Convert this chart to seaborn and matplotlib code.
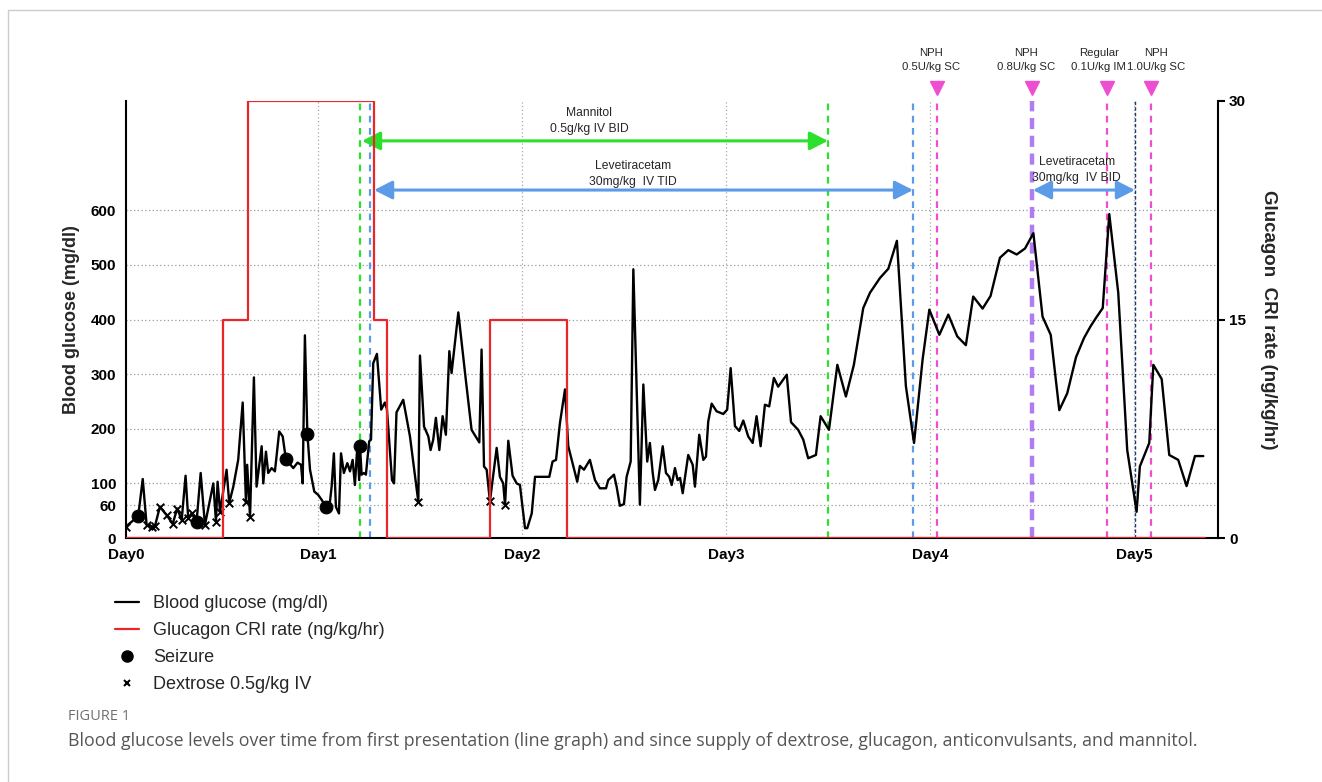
import seaborn as sns
import matplotlib.pyplot as plt
from matplotlib.lines import Line2D

# blood glucose readings: time in days from presentation, mg/dl
time_day = [0.059, 0.119, 0.141, 0.160, 0.185, 0.201, 0.225, 0.258, 0.288, 0.310,
            0.332, 0.351, 0.364, 0.381, 0.405, 0.425, 0.446, 0.471, 0.487, 0.500,
            0.508, 0.520, 0.552, 0.565, 0.585, 0.609, 0.631, 0.647, 0.653, 0.667,
            0.686, 0.699, 0.724, 0.732, 0.745, 0.756, 0.773, 0.789, 0.810, 0.827,
            0.843, 0.879, 0.900, 0.917, 0.925, 0.936, 0.948, 0.961, 0.982, 1.001,
            1.018, 1.039, 1.059, 1.067, 1.078, 1.088, 1.103, 1.113, 1.127, 1.144,
            1.157, 1.170, 1.181, 1.193, 1.202, 1.206, 1.214, 1.225, 1.235, 1.242,
            1.251, 1.260, 1.271, 1.289, 1.310, 1.328, 1.338, 1.363, 1.373, 1.385,
            1.418, 1.451, 1.492, 1.500, 1.520, 1.541, 1.552, 1.565, 1.578, 1.595,
            1.611, 1.627, 1.644, 1.655, 1.688, 1.721, 1.753, 1.791, 1.802, 1.814,
            1.827, 1.843, 1.876, 1.892, 1.908, 1.917, 1.933, 1.954, 1.974, 1.990,
            2.015, 2.026, 2.048, 2.064, 2.113, 2.134, 2.150, 2.167, 2.186, 2.211,
            2.227, 2.244, 2.271, 2.284, 2.304, 2.333, 2.358, 2.382, 2.412, 2.423,
            2.451, 2.464, 2.480, 2.500, 2.513, 2.533, 2.546, 2.578, 2.595, 2.614,
            2.627, 2.641, 2.652, 2.668, 2.690, 2.706, 2.722, 2.734, 2.750, 2.763,
            2.775, 2.788, 2.815, 2.837, 2.848, 2.869, 2.889, 2.902, 2.913, 2.930,
            2.954, 2.987, 3.006, 3.023, 3.044, 3.065, 3.085, 3.109, 3.131, 3.150,
            3.170, 3.191, 3.212, 3.235, 3.256, 3.298, 3.319, 3.354, 3.379, 3.403,
            3.441, 3.464, 3.505, 3.546, 3.588, 3.627, 3.673, 3.706, 3.755, 3.796,
            3.838, 3.882, 3.922, 3.964, 3.997, 4.046, 4.090, 4.134, 4.176, 4.212,
            4.258, 4.297, 4.343, 4.384, 4.425, 4.466, 4.507, 4.552, 4.592, 4.634,
            4.673, 4.716, 4.755, 4.788, 4.814, 4.847, 4.879, 4.923, 4.967, 5.013,
            5.029, 5.075, 5.095, 5.136, 5.173, 5.217, 5.258, 5.299, 5.340]
glucose = [21, 40, 108, 24, 21, 22, 57, 42, 26, 54,
           33, 114, 36, 45, 30, 119, 24, 70, 100, 30,
           103, 48, 125, 64, 94, 143, 248, 65, 134, 39,
           294, 94, 168, 100, 158, 119, 128, 122, 195, 186,
           144, 128, 138, 134, 100, 371, 191, 125, 85, 79,
           70, 57, 67, 94, 155, 57, 45, 155, 119, 137,
           122, 143, 97, 168, 106, 169, 116, 119, 116, 143,
           177, 180, 320, 337, 235, 248, 236, 106, 100, 230,
           253, 186, 66, 334, 204, 186, 161, 180, 220, 161,
           223, 189, 342, 302, 413, 302, 198, 175, 345, 131,
           125, 67, 165, 112, 100, 60, 178, 114, 100, 97,
           18, 18, 45, 112, 112, 112, 140, 143, 210, 272,
           168, 143, 103, 132, 125, 143, 106, 91, 91, 106,
           116, 94, 59, 62, 112, 140, 492, 61, 281, 140,
           174, 119, 88, 106, 168, 119, 112, 97, 128, 106,
           110, 82, 152, 134, 94, 189, 143, 149, 213, 246,
           232, 227, 235, 311, 205, 196, 215, 186, 174, 223,
           168, 244, 241, 293, 277, 299, 212, 198, 180, 146,
           152, 223, 198, 317, 259, 317, 421, 449, 476, 493,
           544, 278, 174, 327, 418, 372, 409, 369, 353, 442,
           420, 443, 513, 527, 519, 530, 558, 405, 372, 234,
           265, 331, 366, 388, 403, 421, 593, 449, 161, 48,
           131, 174, 317, 291, 152, 143, 95, 150, 150]

seizure_day = [0.119, 0.405, 0.843, 0.948, 1.039, 1.206]
seizure_bg = [40, 30, 144, 191, 57, 169]

dextrose_day = [0.059, 0.160, 0.185, 0.201, 0.225, 0.258, 0.288, 0.310, 0.332, 0.364,
                0.381, 0.446, 0.500, 0.520, 0.565, 0.647, 0.667, 1.492, 1.843, 1.917]
dextrose_bg = [21, 24, 21, 22, 57, 42, 26, 54, 33, 36,
               45, 24, 30, 48, 64, 65, 39, 66, 67, 60]

# glucagon CRI (ng/kg/hr), step changes
glucagon_day = [0.059, 0.534, 0.657, 1.275, 1.338, 1.843, 2.220, 5.350]
glucagon_rate = [0, 15, 30, 15, 0, 15, 0, 0]

day_ticks = [0.059, 1, 2, 3, 4, 5]
day_labels = ['Day0', 'Day1', 'Day2', 'Day3', 'Day4', 'Day5']
bg_ticks = [0, 60, 100, 200, 300, 400, 500, 600]
cri_ticks = [0, 15, 30]

mannitol_span = [1.206, 3.500]
leve_tid_span = [1.255, 3.917]
leve_bid_span = [4.500, 5.005]
insulin_day = [4.034, 4.500, 4.868, 5.083]
insulin_text = ['NPH\n0.5U/kg SC', 'NPH\n0.8U/kg SC', 'Regular\n0.1U/kg IM', 'NPH\n1.0U/kg SC']

GREEN = '#2ee02e'
BLUE = '#5b9be8'
PINK = '#ee4fd0'
PURPLE = '#b07cf0'
NAVY = '#22386a'
RED = '#e8262b'

sns.set_theme(style='white')
plt.rcParams['font.family'] = ['Liberation Sans', 'DejaVu Sans']

fig = plt.figure(figsize=(13.22, 7.82), dpi=100)
ax = fig.add_axes([126 / 1322, 1 - 538 / 782, 1092 / 1322, 437 / 782])
ax2 = ax.twinx()

ax.set_xlim(0.059, 5.412)
ax.set_ylim(0, 800)
ax2.set_ylim(0, 30)

# grid
for v in bg_ticks[1:]:
    ax.axhline(v, color='#9a9a9a', ls=(0, (1, 2)), lw=0.9, zorder=0)
for d in day_ticks[1:]:
    ax.axvline(d, color='#a8a8a8', ls=(0, (1, 2)), lw=0.9, zorder=0)

# treatment windows
ax.axvline(mannitol_span[0], color=GREEN, ls=(0, (3, 2.5)), lw=1.6, zorder=1)
ax.axvline(mannitol_span[1], color=GREEN, ls=(0, (3, 2.5)), lw=1.6, zorder=1)
ax.axvline(leve_tid_span[0], color=BLUE, ls=(0, (3, 2.5)), lw=1.6, zorder=1)
ax.axvline(leve_tid_span[1], color=BLUE, ls=(0, (3, 2.5)), lw=1.6, zorder=1)
ax.axvline(leve_bid_span[1], color=NAVY, ls=(0, (2.5, 1.5)), lw=1.0, zorder=1)
for d in insulin_day:
    if d == leve_bid_span[0]:
        ax.axvline(d, color=PURPLE, ls=(0, (2.5, 1.5)), lw=3.2, zorder=1)
    else:
        ax.axvline(d, color=PINK, ls=(0, (3, 2.5)), lw=1.6, zorder=1)

sns.lineplot(x=time_day, y=glucose, ax=ax, color='black', lw=1.7,
             estimator=None, sort=False, zorder=3)
sns.scatterplot(x=seizure_day, y=seizure_bg, ax=ax, color='black', s=85,
                marker='o', edgecolor='black', zorder=4)
sns.scatterplot(x=dextrose_day, y=dextrose_bg, ax=ax, color='black', s=30,
                marker='x', linewidth=1.4, zorder=4)

sns.lineplot(x=glucagon_day, y=glucagon_rate, ax=ax2, color=RED, lw=1.6,
             drawstyle='steps-post', estimator=None, sort=False)

# arrows + labels
arrow_kw = dict(arrowstyle='<|-|>,head_length=0.55,head_width=0.28',
                lw=2.2, mutation_scale=20, shrinkA=0, shrinkB=0)
ax.annotate('', xy=(mannitol_span[0] + 0.01, 727), xytext=(mannitol_span[1], 727),
            arrowprops=dict(color=GREEN, **arrow_kw))
ax.annotate('', xy=(leve_tid_span[0] + 0.02, 637), xytext=(leve_tid_span[1], 637),
            arrowprops=dict(color=BLUE, **arrow_kw))
ax.annotate('', xy=(leve_bid_span[0] + 0.005, 637), xytext=(leve_bid_span[1], 637),
            arrowprops=dict(color=BLUE, **arrow_kw))
ax.text(2.33, 764, 'Mannitol\n0.5g/kg IV BID', ha='center', va='center',
        fontsize=8.7, linespacing=1.45)
ax.text(2.545, 667, 'Levetiracetam\n30mg/kg  IV TID', ha='center', va='center',
        fontsize=8.7, linespacing=1.45)
ax.text(4.72, 673, 'Levetiracetam\n30mg/kg  IV BID', ha='center', va='center',
        fontsize=8.7, linespacing=1.45)

text_shift = [-4, -4, -6, 4]
for d, t, s in zip(insulin_day, insulin_text, text_shift):
    ax.plot([d], [824], marker='v', ms=10, color=PINK, ls='', clip_on=False)
    ax.annotate(t, xy=(d, 875), xytext=(s, 0), textcoords='offset points',
                ha='center', va='center', fontsize=8.2, linespacing=1.6,
                annotation_clip=False)

# axes styling
ax.set_xticks(day_ticks)
ax.set_xticklabels(day_labels, fontweight='bold', fontsize=11)
ax.set_yticks(bg_ticks)
ax.set_yticklabels(bg_ticks, fontweight='bold', fontsize=11)
ax.tick_params(axis='both', length=0, pad=7, colors='black')
ax.set_xlabel('')
ax.set_ylabel('Blood glucose (mg/dl)', fontsize=13, fontweight='bold', labelpad=8)

ax2.set_yticks(cri_ticks)
ax2.set_yticklabels(cri_ticks, fontweight='bold', fontsize=11)
ax2.tick_params(axis='y', length=5, width=1.5, direction='out', pad=3, colors='black',
                right=True)
ax2.set_ylabel('Glucagon  CRI rate (ng/kg/hr)', rotation=270, va='bottom',
               fontsize=13.5, fontweight='bold', labelpad=10)

for a in (ax, ax2):
    a.spines['top'].set_visible(False)
    for s in a.spines.values():
        s.set_linewidth(1.5)
        s.set_color('black')
ax.spines['right'].set_visible(False)
ax2.spines['left'].set_visible(False)
ax2.spines['bottom'].set_visible(False)

# legend below the plot
handles = [Line2D([], [], color='black', lw=1.6),
           Line2D([], [], color=RED, lw=1.6),
           Line2D([], [], ls='', marker='o', color='black', ms=8),
           Line2D([], [], ls='', marker='x', color='black', ms=5, mew=1.5)]
labels = ['Blood glucose (mg/dl)', 'Glucagon CRI rate (ng/kg/hr)', 'Seizure',
          'Dextrose 0.5g/kg IV']
fig.legend(handles, labels, loc='upper left', bbox_to_anchor=(108 / 1322, 1 - 588 / 782),
           frameon=False, fontsize=13, handlelength=1.3, handletextpad=0.8,
           labelspacing=0.55, borderaxespad=0)

# caption and frame
fig.text(68 / 1322, 1 - 716 / 782, 'FIGURE 1', fontsize=10.5, color='#707070',
         family=['Open Sans', 'DejaVu Sans'], va='center')
fig.text(68 / 1322, 1 - 741 / 782,
         'Blood glucose levels over time from first presentation (line graph) and since '
         'supply of dextrose, glucagon, anticonvulsants, and mannitol.',
         fontsize=12.8, color='#555555', family=['Open Sans', 'DejaVu Sans'], va='center')
fig.add_artist(Line2D([8 / 1322, 8 / 1322], [0, 1 - 10 / 782], color='#cccccc', lw=1,
                      transform=fig.transFigure))
fig.add_artist(Line2D([8 / 1322, 1], [1 - 10 / 782, 1 - 10 / 782], color='#cccccc', lw=1,
                      transform=fig.transFigure))

fig.savefig('out.png', dpi=100)
